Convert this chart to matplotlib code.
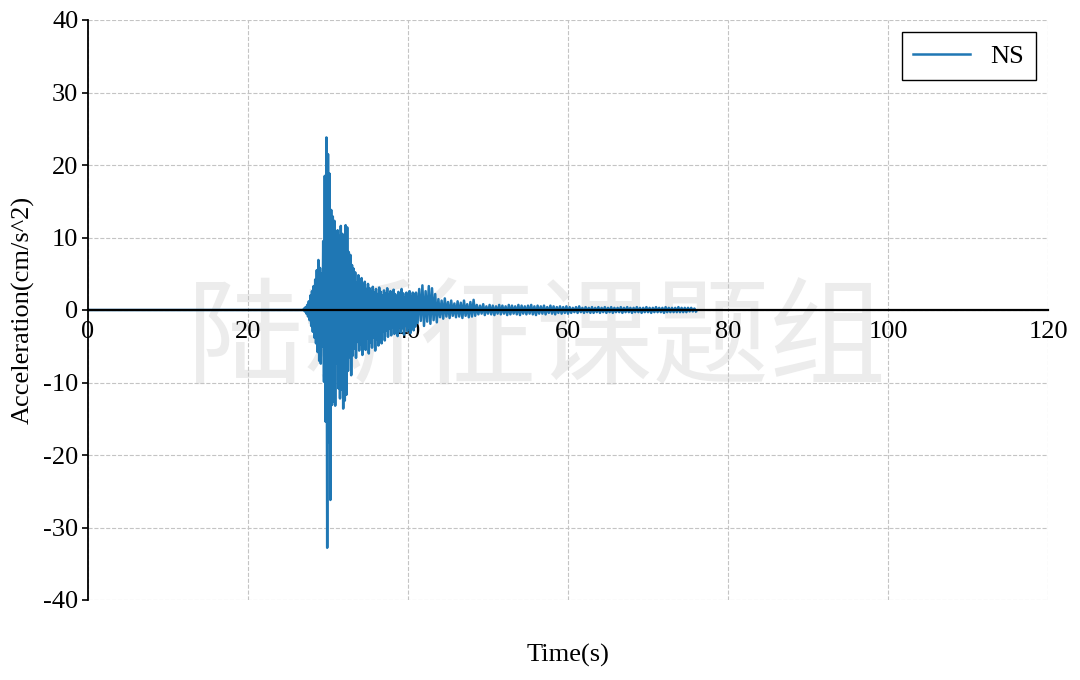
import numpy as np
import matplotlib
matplotlib.use("Agg")
import matplotlib.pyplot as plt

# ---------------- data ----------------
# Segment A: 27.0 s .. 41.0 s, samples every 0.1 s, alternating +peak / -peak
seg_a_start = 27.0
seg_a_dt = 0.1
pos_a = [0.2, 0.4, 0.7, 1.2, 2.0, 2.6, 3.3, 4.2, 5.5, 6.9,
         5.8, 5.0, 9.5, 18.5, 23.8, 21.5, 18.8, 13.8, 12.9, 12.3,
         9.6, 11.0, 10.2, 11.6, 10.5, 9.8, 11.7, 11.4, 8.0, 7.6,
         6.2, 5.7, 5.2, 3.8, 4.8, 4.1, 4.4, 3.5, 3.9, 2.9,
         3.6, 3.0, 2.6, 3.2, 2.4, 2.9, 2.2, 3.1, 2.5, 2.0,
         2.7, 2.3, 3.0, 2.1, 2.6, 1.9, 2.8, 2.2, 1.8, 2.5,
         2.0, 2.9, 2.3, 1.7, 2.4, 2.0, 2.6, 1.9, 2.4, 2.2]
neg_a = [-0.2, -0.5, -0.9, -1.4, -2.2, -3.0, -3.8, -4.6, -5.8, -7.0,
         -7.4, -5.0, -9.9, -15.4, -32.8, -18.2, -26.2, -13.1, -12.6, -13.2,
         -7.4, -10.8, -12.2, -11.0, -13.6, -12.5, -11.7, -8.4, -6.5, -9.0,
         -6.3, -5.3, -6.6, -4.4, -5.6, -4.8, -6.2, -4.2, -5.5, -3.9,
         -6.0, -4.5, -5.2, -3.8, -5.6, -4.0, -4.9, -3.3, -4.6, -3.0,
         -4.2, -2.8, -3.7, -2.6, -3.5, -2.4, -3.3, -2.7, -3.6, -2.3,
         -3.1, -2.5, -3.4, -2.2, -2.9, -2.4, -3.2, -2.1, -2.8, -2.3]

# Segment B: 41.0 s .. 76.0 s, samples every 0.2 s, alternating +peak / -peak
seg_b_start = 41.0
seg_b_dt = 0.2
pos_b = [2.4, 2.9, 3.4, 2.6, 3.3, 3.0, 2.2, 1.5, 1.3, 1.6,
         1.1, 1.3, 0.9, 1.2, 1.0, 1.3, 0.8, 1.1, 1.4, 0.7,
         0.6, 0.8, 0.5, 0.7, 0.6, 0.5, 0.7, 0.6, 0.5, 0.7,
         0.6, 0.5, 0.7, 0.6, 0.5, 0.6, 0.7, 0.5, 0.6, 0.5,
         0.6, 0.4, 0.6, 0.5, 0.4, 0.5, 0.4, 0.5, 0.4, 0.3,
         0.4, 0.5, 0.3, 0.4, 0.3, 0.4, 0.3, 0.4, 0.3, 0.4,
         0.3, 0.4, 0.3, 0.3, 0.4, 0.3, 0.4, 0.3, 0.3, 0.4,
         0.3, 0.3, 0.4, 0.3, 0.3, 0.4, 0.3, 0.3, 0.4, 0.3,
         0.3, 0.3, 0.4, 0.3, 0.3, 0.3, 0.3, 0.2]
neg_b = [-1.8, -1.5, -2.2, -1.6, -1.9, -1.4, -1.7,
         -1.0, -1.2, -0.9, -1.1, -0.8, -1.0, -0.9, -1.1, -0.8, -1.0, -0.9, -0.8,
         -0.6, -0.5, -0.7, -0.5, -0.6, -0.7, -0.5, -0.6, -0.5, -0.7,
         -0.6, -0.5, -0.6, -0.7, -0.5, -0.6, -0.5, -0.6, -0.7, -0.5,
         -0.5, -0.6, -0.4, -0.5, -0.6, -0.4, -0.5, -0.4, -0.5,
         -0.4, -0.3, -0.4, -0.3, -0.4, -0.3, -0.4, -0.4, -0.3, -0.4,
         -0.3, -0.4, -0.3, -0.4, -0.3, -0.3, -0.4, -0.3, -0.3, -0.4,
         -0.3, -0.3, -0.4, -0.3, -0.3, -0.4, -0.3, -0.3, -0.3, -0.4,
         -0.3, -0.3, -0.3, -0.3, -0.3, -0.3, -0.3, -0.2, -0.2, -0.2]

quiet_start = [0.0, 26.9]          # seconds of zero signal before the event
x_ticks = [0, 20, 40, 60, 80, 100, 120]
y_ticks = [-40, -30, -20, -10, 0, 10, 20, 30, 40]
series_label = "NS"
watermark = "陆新征课题组"


def interleave(start, dt, pos, neg):
    n = min(len(pos), len(neg))
    vals = []
    for p, q in zip(pos[:n], neg[:n]):
        vals += [p, q]
    times = [start + dt * i for i in range(len(vals))]
    return times, vals


ta, va = interleave(seg_a_start, seg_a_dt, pos_a, neg_a)
tb, vb = interleave(seg_b_start, seg_b_dt, pos_b, neg_b)
time = quiet_start + ta + tb
accel = [0.0, 0.0] + va + vb

# ---------------- figure ----------------
plt.rcParams['font.family'] = ['Liberation Serif', 'DejaVu Serif']
plt.rcParams['axes.unicode_minus'] = False
FS = 19

fig = plt.figure(figsize=(10.8, 6.8), dpi=100)
ax = fig.add_axes([88 / 1080, 80 / 680, 960 / 1080, 580 / 680])

ax.plot(time, accel, color='#1f77b4', lw=1.8, label=series_label, zorder=2)

ax.set_xlim(0, 120)
ax.set_ylim(-40, 40)
ax.set_xticks(x_ticks)
ax.set_yticks(y_ticks)

ax.spines['top'].set_visible(False)
ax.spines['right'].set_visible(False)
ax.spines['bottom'].set_position(('data', 0))
ax.spines['bottom'].set_linewidth(1.6)
ax.spines['left'].set_linewidth(1.3)
ax.spines['bottom'].set_zorder(3)

ax.tick_params(axis='x', length=0, pad=8, labelsize=FS)
ax.tick_params(axis='y', length=4, width=1.2, direction='out', labelsize=FS, pad=3)

ax.grid(True, linestyle='--', color='#c4c4c4', linewidth=0.8)
ax.set_axisbelow(True)

ax.set_xlabel('Time(s)', fontsize=FS)
ax.xaxis.set_label_coords(0.5, -0.095)
ax.xaxis.label.set_va('center')
ax.set_ylabel('Acceleration(cm/s^2)', fontsize=FS)
ax.yaxis.set_label_coords(-0.067, 0.5)
ax.yaxis.label.set_va('center')

leg = ax.legend(loc='upper right', fontsize=FS, frameon=True, fancybox=False,
                edgecolor='black', framealpha=1, handlelength=2.15,
                handletextpad=0.75, borderaxespad=0.47, borderpad=0.45)
leg.get_frame().set_linewidth(1.0)

ax.text(537 / 1080, 1 - 343 / 680, watermark, transform=fig.transFigure,
        fontsize=84, color='#ececec', ha='center', va='center',
        family=['Noto Sans CJK SC', 'DejaVu Sans'], zorder=0.3)

fig.savefig('out.png', dpi=100)
